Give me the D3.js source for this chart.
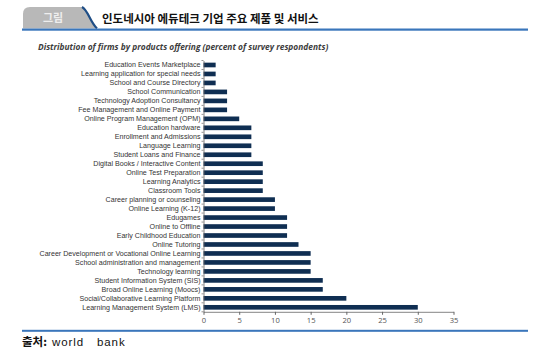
<!DOCTYPE html>
<html><head><meta charset="utf-8">
<script src="https://cdn.jsdelivr.net/npm/d3@7/dist/d3.min.js"></script>
<style>
body{margin:0;background:#fff;}
svg{display:block;}
</style></head>
<body><svg id="c" width="552" height="355"></svg>
<script>
const categories = [
 "Education Events Marketplace",
 "Learning application for special needs",
 "School and Course Directory",
 "School Communication",
 "Technology Adoption Consultancy",
 "Fee Management and Online Payment",
 "Online Program Management (OPM)",
 "Education hardware",
 "Enrollment and Admissions",
 "Language Learning",
 "Student Loans and Finance",
 "Digital Books / Interactive Content",
 "Online Test Preparation",
 "Learning Analytics",
 "Classroom Tools",
 "Career planning or counseling",
 "Online Learning (K-12)",
 "Edugames",
 "Online to Offline",
 "Early Childhood Education",
 "Online Tutoring",
 "Career Development or Vocational Online Learning",
 "School administration and management",
 "Technology learning",
 "Student Information System (SIS)",
 "Broad Online Learning (Moocs)",
 "Social/Collaborative Learning Platform",
 "Learning Management System (LMS)"
];
const values = [1.7,1.7,1.7,3.3,3.3,3.3,5.0,6.7,6.7,6.7,6.7,8.3,8.3,8.3,8.3,10.0,10.0,11.7,11.7,11.7,13.3,15.0,15.0,15.0,16.7,16.7,20.0,30.0];
const xTicks = [0,5,10,15,20,25,30,35];
const titleText = "인도네시아 에듀테크 기업 주요 제품 및 서비스";
const tabText = "그림";
const subtitleText = "Distribution of firms by products offering (percent of survey respondents)";
const sourceLabel = "출처";
const sourceWords = ["world", "bank"];

const svg = d3.select("#c");
const blue = "#3a76bb";
const labelFont = "'Liberation Sans Narrow', 'Liberation Sans', Arial, sans-serif";

// header tab
svg.append("path")
  .attr("d","M30,7 L83,7 C88,10 90,22 96,28.5 L23,28.5 L23,14 Q23,7 30,7 Z")
  .attr("fill","#b8b8b8");
svg.append("path")
  .attr("d","M82,7 C88,10 90,22 97,28.5")
  .attr("fill","none").attr("stroke","#1f4e86").attr("stroke-width",2.2);
svg.append("text").attr("x",53).attr("y",22).attr("text-anchor","middle")
  .attr("font-family","Noto Sans CJK KR").attr("font-size",11).attr("font-weight",700)
  .attr("fill","#eeeeee").text(tabText);
svg.append("text").attr("x",102).attr("y",23)
  .attr("font-family","Noto Sans CJK KR").attr("font-size",11.5).attr("font-weight",700)
  .attr("fill","#111").text(titleText);
svg.append("rect").attr("x",22).attr("y",28.5).attr("width",506).attr("height",2.2).attr("fill",blue);

svg.append("text").attr("x",38).attr("y",50)
  .attr("font-family","Open Sans").attr("font-size",8.4).attr("font-weight",700).attr("font-style","italic")
  .attr("fill","#3d3d3d").text(subtitleText);

// scales
const x = d3.scaleLinear().domain([0,35]).range([203.5,453.5]);
const y = d3.scaleBand().domain(categories).range([60.5,311.8]).paddingInner(0.48).paddingOuter(0.24);

svg.append("g").selectAll("rect").data(categories).join("rect")
  .attr("x",x(0)).attr("y",d=>y(d))
  .attr("width",(d,i)=>x(values[i])-x(0))
  .attr("height",y.bandwidth())
  .attr("fill","#0f2e52");

// y axis
const yAxisG = svg.append("g").attr("transform",`translate(${x(0)},0)`)
  .call(d3.axisLeft(y).tickSize(0).tickPadding(3));
yAxisG.select(".domain").attr("stroke","#666").attr("stroke-width",0.8);
yAxisG.selectAll("text").attr("font-family",labelFont).attr("font-size",7.6).attr("fill","#333");
const step = y.step();
const bounds = d3.range(categories.length+1).map(i=>y.range()[0]+i*step);
yAxisG.selectAll("line.b").data(bounds).join("line").attr("class","b")
  .attr("x1",-2).attr("x2",0).attr("y1",d=>d).attr("y2",d=>d)
  .attr("stroke","#666").attr("stroke-width",0.7);

// x axis
const xAxisG = svg.append("g").attr("transform",`translate(0,${y.range()[1]})`)
  .call(d3.axisBottom(x).tickValues(xTicks).tickSize(3).tickPadding(3).tickSizeOuter(0));
xAxisG.select(".domain").attr("stroke","#666").attr("stroke-width",0.8);
xAxisG.selectAll(".tick line").attr("stroke","#666");
xAxisG.selectAll("text").attr("font-family","Open Sans").attr("font-size",7.6).attr("fill","#555");

// fit label widths to the reference's condensed look
const longest = yAxisG.selectAll("text").nodes().reduce((m,n)=>Math.max(m,n.getComputedTextLength()),0);
const targetW = 161;
const k = targetW/longest;
yAxisG.selectAll("text").attr("transform",`scale(${k},1)`).attr("x",-3/k);

// bottom
svg.append("rect").attr("x",22).attr("y",329.8).attr("width",506).attr("height",2).attr("fill",blue);
const src = svg.append("text").attr("y",346).attr("fill","#111").attr("font-size",11.5);
src.append("tspan").attr("x",22).attr("font-family","Noto Sans CJK KR").attr("font-weight",700).text(sourceLabel + ":");
src.append("tspan").attr("x",52).attr("font-family","'Liberation Sans', Arial").attr("letter-spacing",0.9).text(sourceWords[0]);
src.append("tspan").attr("x",97).attr("font-family","'Liberation Sans', Arial").attr("letter-spacing",0.9).text(sourceWords[1]);
</script></body></html>
